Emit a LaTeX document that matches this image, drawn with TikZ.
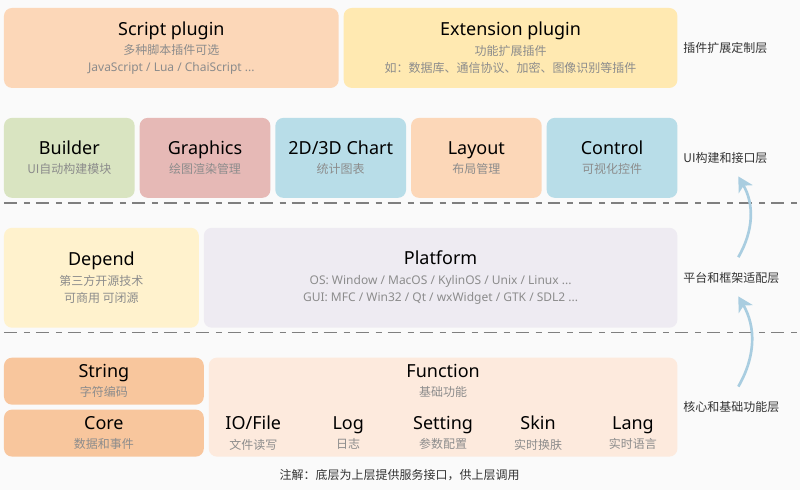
\documentclass[tikz,border=0pt]{standalone}
\usepackage{fontspec}
\setmainfont{Noto Sans CJK SC}
\newfontfamily\latinf{Noto Sans}
\usepackage{tikz}
\usetikzlibrary{arrows.meta,positioning,calc}
\definecolor{bgcol}{HTML}{FAFAFA}
\definecolor{peach}{HTML}{FCD7B8}
\definecolor{sand}{HTML}{FFE9B1}
\definecolor{sage}{HTML}{D9E4C1}
\definecolor{rose}{HTML}{E6B9B6}
\definecolor{sky}{HTML}{B8DDE8}
\definecolor{cream}{HTML}{FFF2CD}
\definecolor{lilac}{HTML}{EEEBF2}
\definecolor{apricot}{HTML}{F8C69D}
\definecolor{blush}{HTML}{FDEADD}
\definecolor{subgrey}{HTML}{8C8C8C}
\definecolor{labelgrey}{HTML}{333333}
\definecolor{arrowblue}{HTML}{A9CDE0}
\definecolor{sepgrey}{HTML}{7F7F7F}
\newcommand\boxtitle{\latinf\fontsize{13.5}{16}\selectfont\color{black}}
\tikzset{
  block/.style={rounded corners=6pt,inner sep=0pt,outer sep=0pt,align=center,text=subgrey,font=\fontsize{9}{13}\selectfont},
  item/.style={inner sep=0pt,outer sep=0pt,align=center,text=subgrey,font=\fontsize{9}{13}\selectfont,minimum width=71.25pt,minimum height=35.25pt},
  layerlab/.style={inner sep=0pt,outer sep=0pt,text=labelgrey,font=\fontsize{9}{11}\selectfont},
  sepline/.style={draw=sepgrey,line width=1.1pt,dash pattern=on 9.75pt off 5.25pt on 4.5pt off 4.5pt},
  uparrow/.style={-{Stealth[length=11pt,width=12pt,inset=3pt]},line width=2pt,draw=arrowblue}
}

\begin{document}
\begin{tikzpicture}[x=0.75pt,y=-0.75pt,node distance=3.75pt]
  \fill[bgcol] (0,0) rectangle (801,490);

  % plugin layer
  \node[block,fill=peach,minimum width=251.25pt,minimum height=60pt,anchor=north west] (script) at (4,8)
    {{\boxtitle Script plugin}\\[1.5pt]多种脚本插件可选\\{\latinf JavaScript / Lua / ChaiScript ...}};
  \node[block,fill=sand,minimum width=250.5pt,minimum height=60pt,right=of script] (ext)
    {{\boxtitle Extension plugin}\\[1.5pt]功能扩展插件\\如：数据库、通信协议、加密、图像识别等插件};

  % UI layer
  \node[block,fill=sage,minimum width=98.1pt,minimum height=60pt,anchor=north west] (builder) at (4,118)
    {{\boxtitle Builder}\\[1.5pt]UI自动构建模块};
  \node[block,fill=rose,minimum width=98.1pt,minimum height=60pt,right=of builder] (graphics)
    {{\boxtitle Graphics}\\[1.5pt]绘图渲染管理};
  \node[block,fill=sky,minimum width=98.1pt,minimum height=60pt,right=of graphics] (chart)
    {{\boxtitle 2D/3D Chart}\\[1.5pt]统计图表};
  \node[block,fill=peach,minimum width=98.1pt,minimum height=60pt,right=of chart] (layout)
    {{\boxtitle Layout}\\[1.5pt]布局管理};
  \node[block,fill=sky,minimum width=98.1pt,minimum height=60pt,right=of layout] (control)
    {{\boxtitle Control}\\[1.5pt]可视化控件};

  % platform layer
  \node[block,fill=cream,minimum width=146.25pt,minimum height=75pt,anchor=north west] (depend) at (4,228)
    {{\boxtitle Depend}\\[1.5pt]第三方开源技术\\可商用 可闭源};
  \node[block,fill=lilac,minimum width=355.5pt,minimum height=75pt,right=of depend] (platform)
    {{\boxtitle Platform}\\[1.5pt]{\latinf OS: Window / MacOS / KylinOS / Unix / Linux ...}\\{\latinf GUI: MFC / Win32 / Qt / wxWidget / GTK / SDL2 ...}};

  % core layer
  \node[block,fill=apricot,minimum width=150pt,minimum height=35.25pt,anchor=north west] (string) at (4,358)
    {{\boxtitle String}\\[1.5pt]字符编码};
  \node[block,fill=apricot,minimum width=150pt,minimum height=35.25pt,below=of string] (core)
    {{\boxtitle Core}\\[1.5pt]数据和事件};
  \node[block,fill=blush,minimum width=351.75pt,minimum height=74.25pt,anchor=north west] (func) at ([xshift=3.75pt]string.north east) {};
  \node[item,anchor=north] (funchead) at (func.north) {{\boxtitle Function}\\[1.5pt]基础功能};
  \node[item,anchor=south] (setting) at (func.south) {{\boxtitle Setting}\\[1.5pt]参数配置};
  \node[item,left=0pt of setting] (log) {{\boxtitle Log}\\[1.5pt]日志};
  \node[item,left=0pt of log] (iofile) {{\boxtitle IO/File}\\[1.5pt]文件读写};
  \node[item,right=0pt of setting] (skin) {{\boxtitle Skin}\\[1.5pt]实时换肤};
  \node[item,right=0pt of skin] (lang) {{\boxtitle Lang}\\[1.5pt]实时语言};

  % separators
  \draw[sepline] (4,203) -- (801,203);
  \draw[sepline] (4,333) -- (801,333);

  % layer names
  \node[layerlab,right=4.5pt of ext] (plugLab) {插件扩展定制层};
  \node[layerlab,right=4.5pt of control] (uiLab) {UI构建和接口层};
  \node[layerlab,right=4.5pt of platform] (platLab) {平台和框架适配层};
  \node[layerlab,right=4.5pt of func] (coreLab) {核心和基础功能层};

  \coordinate (arrowx) at (739,0);
  \draw[uparrow] ($(platLab.north -| arrowx)+(0,-15)$) to[bend right=30] ($(uiLab.south -| arrowx)+(0,13)$);
  \draw[uparrow] ($(coreLab.north -| arrowx)+(0,-15)$) to[bend right=30] ($(platLab.south -| arrowx)+(0,13)$);

  \node[layerlab] (note) at (400,476) {注解：底层为上层提供服务接口，供上层调用};
\end{tikzpicture}
\end{document}
